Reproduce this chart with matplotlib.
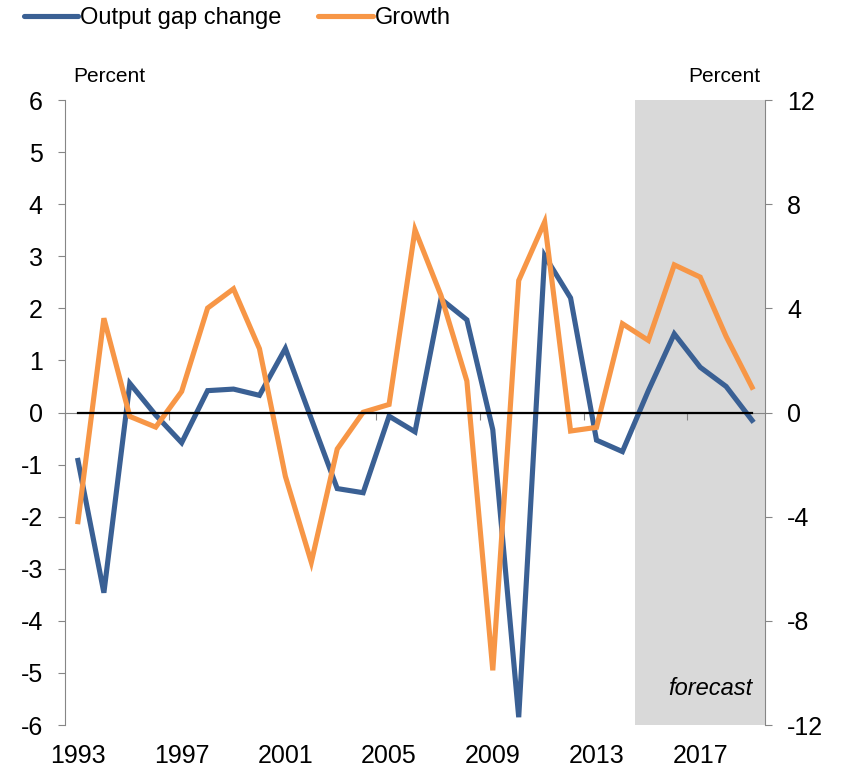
import numpy as np
import matplotlib.pyplot as plt
from matplotlib.lines import Line2D

plt.rcParams['font.family'] = ['Liberation Sans', 'DejaVu Sans']
plt.rcParams['axes.unicode_minus'] = False

years = list(range(1993, 2020))
# output gap change, left axis (percent)
gap_change = [-0.92, -3.46, 0.56, -0.05, -0.58, 0.42, 0.45, 0.33, 1.23, -0.12,
              -1.46, -1.54, -0.07, -0.37, 2.18, 1.78, -0.33, -5.85, 3.01, 2.20,
              -0.53, -0.75, 0.42, 1.51, 0.87, 0.50, -0.15]
# growth, right axis (percent)
growth = [-4.19, 3.62, -0.15, -0.56, 0.81, 4.01, 4.75, 2.45, -2.45, -5.75,
          -1.40, 0.01, 0.31, 7.02, 4.5, 1.21, -9.90, 5.07, 7.32, -0.71,
          -0.57, 3.41, 2.77, 5.67, 5.20, 2.92, 0.97]
year_labels = ['1993', '1997', '2001', '2005', '2009', '2013', '2017']
forecast_start = 2015

blue = '#3A6094'
orange = '#F79646'
grey = '#868686'

x = np.arange(len(years))

fig = plt.figure(figsize=(8.43, 7.70), dpi=100)
ax = fig.add_axes([0.0771, 0.0584, 0.8304, 0.8117])
ax2 = ax.twinx()

# forecast shading
fs = years.index(forecast_start) - 0.5
ax.axvspan(fs, len(years) - 0.5, color='#D9D9D9', zorder=0, lw=0)

ax.set_xlim(-0.5, len(years) - 0.5)
ax.set_ylim(-6, 6)
ax2.set_ylim(-12, 12)

ax.plot(x, gap_change, color=blue, lw=3.7, solid_joinstyle='miter', zorder=3)
ax2.plot(x, growth, color=orange, lw=3.7, solid_joinstyle='miter', zorder=3)
ax2.plot(x, np.zeros(len(x)), color='black', lw=1.6, zorder=4)

# axes styling
for a in (ax, ax2):
    a.spines['top'].set_visible(False)
    a.patch.set_visible(False)
ax.spines['right'].set_visible(False)
ax2.spines['left'].set_visible(False)
ax2.spines['bottom'].set_visible(False)
ax.spines['left'].set_color(grey)
ax2.spines['right'].set_color(grey)
ax.spines['bottom'].set_position(('data', 0))
ax.spines['bottom'].set_color(grey)

ax.set_yticks(np.arange(-6, 7, 1))
ax2.set_yticks(np.arange(-12, 13, 4))
ax.tick_params(axis='y', direction='out', length=5, color=grey, labelsize=18, pad=11)
ax2.tick_params(axis='y', direction='out', length=5, color=grey, labelsize=18, pad=11)

ax.set_xticks(np.arange(-0.5, len(years), 4))
ax.tick_params(axis='x', direction='out', length=5, color=grey, labelbottom=False)

sec = ax.secondary_xaxis('bottom')
sec.set_xticks([years.index(int(y)) for y in year_labels], year_labels)
sec.tick_params(length=0, labelsize=18, pad=14)
sec.spines['bottom'].set_visible(False)

ax.set_zorder(2)
ax2.set_zorder(3)

fig.text(73 / 843, 1 - 77 / 770, 'Percent', fontsize=15, va='center', ha='left')
fig.text(760 / 843, 1 - 77 / 770, 'Percent', fontsize=15, va='center', ha='right')
ax.text(len(years) - 1, -5.3, 'forecast', fontsize=17, style='italic', ha='right', va='center')

handles = [Line2D([], [], color=blue, lw=3.7, solid_capstyle='round'),
           Line2D([], [], color=orange, lw=3.7, solid_capstyle='round')]
fig.legend(handles, ['Output gap change', 'Growth'], loc='upper left',
           bbox_to_anchor=(0.003, 1.018), ncol=2, frameon=False, fontsize=17,
           handlelength=2.3, handletextpad=0.1, columnspacing=1.55)

fig.savefig('out.png', dpi=100)
